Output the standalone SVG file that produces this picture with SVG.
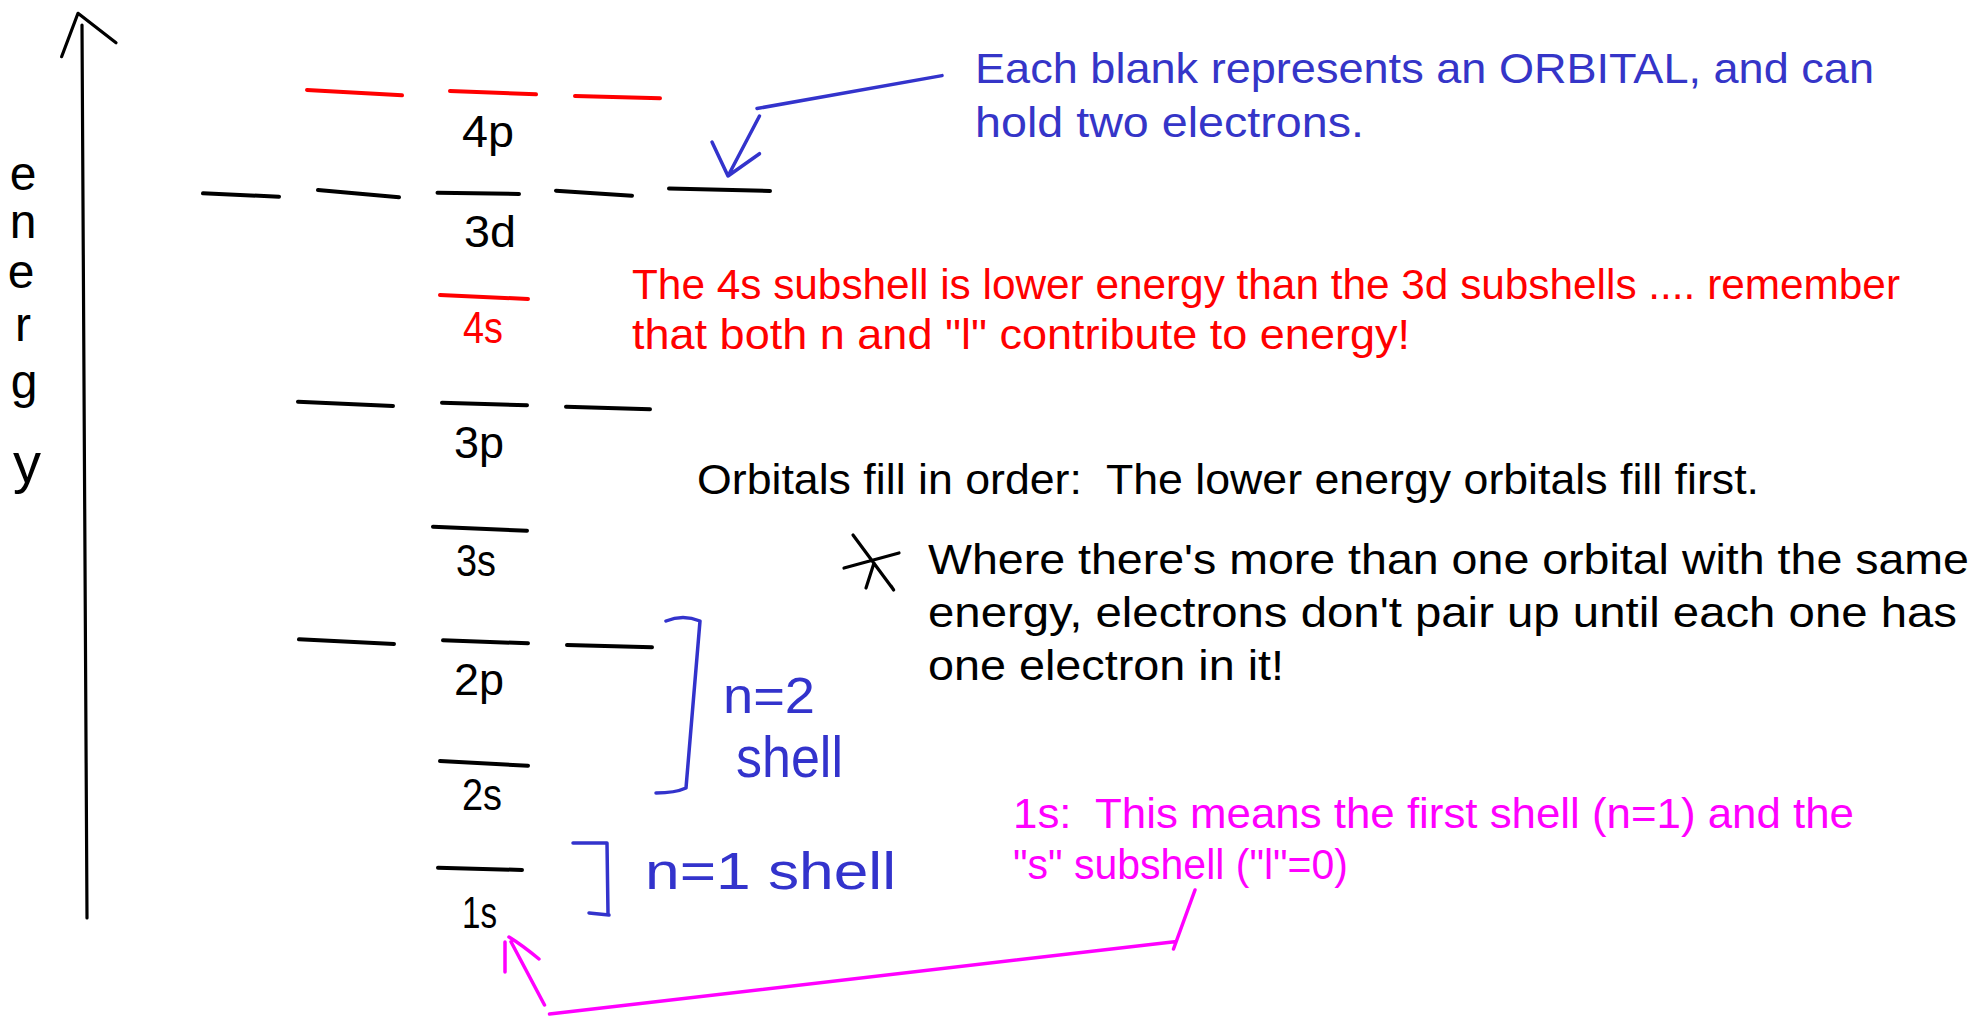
<svg xmlns="http://www.w3.org/2000/svg" width="1975" height="1017" viewBox="0 0 1975 1017">
<style>
  text { font-family: "Liberation Sans", "DejaVu Sans", sans-serif; }
  .pre { white-space: pre; }
  .lbl { font-size: 44px; fill: #000; }
  .red { fill: #ff0000; }
  .blueT { fill: #3535c8; }
  .mag { fill: #ff00ff; }
  .note { font-size: 42px; }
  .hand { fill: #3333cc; }
  .blank { stroke: #000; stroke-width: 4; stroke-linecap: round; fill: none; }
  .blank.r { stroke: #ff0000; }
  .pen { stroke: #000; stroke-width: 3.2; stroke-linecap: round; stroke-linejoin: round; fill: none; }
  .bpen { stroke: #3333cc; stroke-width: 3.5; stroke-linecap: round; stroke-linejoin: round; fill: none; }
  .mpen { stroke: #ff00ff; stroke-width: 3.5; stroke-linecap: round; stroke-linejoin: round; fill: none; }
</style>
<rect width="1975" height="1017" fill="#fff"/>

<g id="energy-axis">
  <path class="pen" d="M82,25 L87,918"/>
  <path class="pen" d="M61.6,56.7 L78,13.3 L116,42.7"/>
  <text class="lbl" style="font-size:48px" text-anchor="middle"><tspan x="23" y="190">e</tspan><tspan x="23" y="238">n</tspan><tspan x="21" y="288">e</tspan><tspan x="23" y="341">r</tspan><tspan x="24" y="398">g</tspan><tspan x="27" y="482" style="font-size:56px">y</tspan></text>
</g>

<g id="orbital-4p">
  <path class="blank r" d="M307,90 L402,95.3 M450,91 L536,94.3 M575,96 L660,98.3"/>
  <text class="lbl" x="462" y="147" textLength="52" lengthAdjust="spacingAndGlyphs">4p</text>
</g>
<g id="orbital-3d">
  <path class="blank" d="M203,193.3 L279,196.7 M318,190 L399,197.3 M437.5,192.7 L519,194 M556,190.7 L632,195.7 M669,188.5 L770,191"/>
  <text class="lbl" x="464" y="247" textLength="52" lengthAdjust="spacingAndGlyphs">3d</text>
</g>
<g id="orbital-4s">
  <path class="blank r" d="M440,295 L528,299"/>
  <text class="lbl red" x="463" y="343" textLength="40" lengthAdjust="spacingAndGlyphs">4s</text>
</g>
<g id="orbital-3p">
  <path class="blank" d="M298,401.7 L393,406 M442,402.7 L527,405.3 M566,406.7 L650,409.3"/>
  <text class="lbl" x="454" y="458" textLength="50" lengthAdjust="spacingAndGlyphs">3p</text>
</g>
<g id="orbital-3s">
  <path class="blank" d="M433,526.7 L527,530.7"/>
  <text class="lbl" x="456" y="576" textLength="40" lengthAdjust="spacingAndGlyphs">3s</text>
</g>
<g id="orbital-2p">
  <path class="blank" d="M299,639.3 L394,644 M443,640.3 L528,643.3 M567,645 L652,647.3"/>
  <text class="lbl" x="454" y="695" textLength="50" lengthAdjust="spacingAndGlyphs">2p</text>
</g>
<g id="orbital-2s">
  <path class="blank" d="M440,761 L528,765.7"/>
  <text class="lbl" x="462" y="810" textLength="40" lengthAdjust="spacingAndGlyphs">2s</text>
</g>
<g id="orbital-1s">
  <path class="blank" d="M438,867.7 L522,870"/>
  <text class="lbl" x="462" y="928" textLength="35" lengthAdjust="spacingAndGlyphs">1s</text>
</g>

<g id="bracket-n2">
  <path class="bpen" d="M666,621 Q683,614 700,621 L686,788 Q675,793 656,793"/>
  <text class="hand" style="font-size:50px" x="723" y="713" textLength="92" lengthAdjust="spacingAndGlyphs">n=2</text>
  <text class="hand" style="font-size:58px" x="736" y="777" textLength="107" lengthAdjust="spacingAndGlyphs">shell</text>
</g>
<g id="bracket-n1">
  <path class="bpen" d="M573,843 L607,843 L608,914 M589,913 L609,915"/>
  <text class="hand" style="font-size:52px" x="645" y="889" textLength="251" lengthAdjust="spacingAndGlyphs">n=1 shell</text>
</g>

<g id="note-orbital">
  <text class="note blueT" x="975" y="83" textLength="899" lengthAdjust="spacingAndGlyphs">Each blank represents an ORBITAL, and can</text>
  <text class="note blueT" x="975" y="137" textLength="389" lengthAdjust="spacingAndGlyphs">hold two electrons.</text>
</g>
<g id="note-4s">
  <text class="note red" x="632" y="299" textLength="1268" lengthAdjust="spacingAndGlyphs">The 4s subshell is lower energy than the 3d subshells .... remember</text>
  <text class="note red" x="632" y="349" textLength="778" lengthAdjust="spacingAndGlyphs">that both n and "l" contribute to energy!</text>
</g>
<g id="note-fill-order">
  <text class="note pre" x="697" y="494" textLength="1062" lengthAdjust="spacingAndGlyphs" xml:space="preserve">Orbitals fill in order:  The lower energy orbitals fill first.</text>
</g>
<g id="note-hund">
  <path class="pen" d="M853,535 L893,589 Q895,592 891,586 M899,553 L844,568 M874,563 L866,588"/>
  <text class="note" x="928" y="574" textLength="1041" lengthAdjust="spacingAndGlyphs">Where there's more than one orbital with the same</text>
  <text class="note" x="928" y="627" textLength="1029" lengthAdjust="spacingAndGlyphs">energy, electrons don't pair up until each one has</text>
  <text class="note" x="928" y="680" textLength="356" lengthAdjust="spacingAndGlyphs">one electron in it!</text>
</g>
<g id="note-1s">
  <text class="note mag pre" x="1013" y="828" textLength="841" lengthAdjust="spacingAndGlyphs" xml:space="preserve">1s:  This means the first shell (n=1) and the</text>
  <text class="note mag" x="1013" y="879" textLength="335" lengthAdjust="spacingAndGlyphs">"s" subshell ("l"=0)</text>
</g>

<g id="connectors">
  <path class="bpen" d="M942,75.6 L757,108.5"/>
  <path class="bpen" d="M759.5,116 L728,176 M712,142 L728,176 L759.5,153.7"/>
  <path class="mpen" d="M505,972 L505,942 M509,937 Q522,945 539,959 M511,941.7 L544.5,1005 M549.5,1014 L1174.5,941.7 M1173.5,949 L1195,890"/>
</g>
</svg>
